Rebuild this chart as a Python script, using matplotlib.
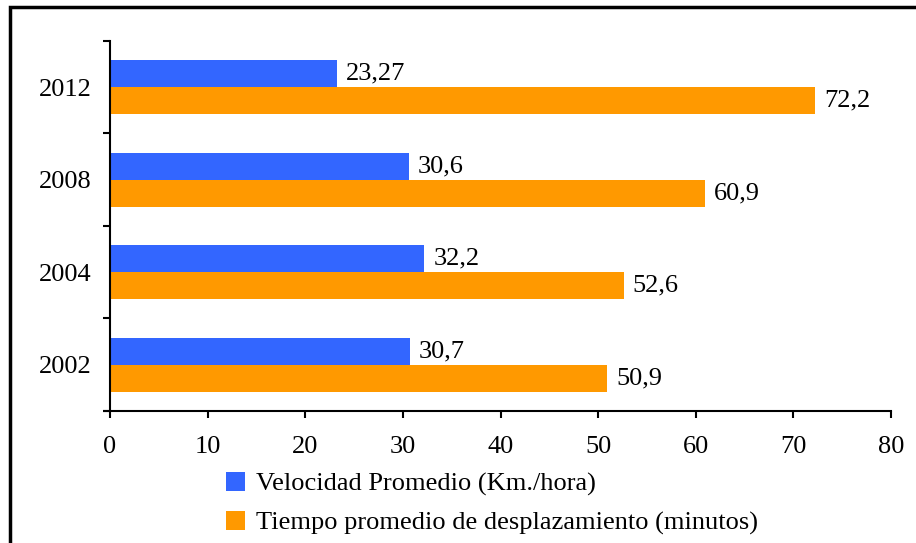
import matplotlib.pyplot as plt
import numpy as np
from matplotlib.patches import Rectangle

years = ["2002", "2004", "2008", "2012"]
velocidad = [30.7, 32.2, 30.6, 23.27]
tiempo = [50.9, 52.6, 60.9, 72.2]
velocidad_labels = ["30,7", "32,2", "30,6", "23,27"]
tiempo_labels = ["50,9", "52,6", "60,9", "72,2"]
series_names = ["Velocidad Promedio (Km./hora)",
                "Tiempo promedio de desplazamiento (minutos)"]

plt.rcParams["font.family"] = ["Liberation Serif", "DejaVu Serif"]
FS = 19

fig = plt.figure(figsize=(9.16, 5.43), dpi=100)
ax = fig.add_axes([0.1201, 0.2431, 0.8526, 0.6814])

y = np.arange(len(years))
h = 0.29
b1 = ax.barh(y + h / 2, velocidad, height=h, color="#3366FF", label=series_names[0])
b2 = ax.barh(y - h / 2, tiempo, height=h, color="#FF9900", label=series_names[1])

for bars, labs in ((b1, velocidad_labels), (b2, tiempo_labels)):
    for bar, lab in zip(bars, labs):
        ax.annotate(lab, (bar.get_width(), bar.get_y() + bar.get_height() / 2),
                    xytext=(6.5, 0), textcoords="offset points",
                    ha="left", va="center", fontsize=FS)

ax.set_xlim(0, 80)
ax.set_ylim(-0.5, 3.5)
ax.set_xticks(range(0, 81, 10))
ax.set_yticks(y)
ax.set_yticklabels(years)
ax.set_yticks(np.arange(-0.5, 3.6, 1), minor=True)
ax.tick_params(axis="y", which="major", length=0, pad=13, labelsize=FS)
ax.tick_params(axis="y", which="minor", length=5, width=1.5, direction="out")
ax.tick_params(axis="x", length=5, width=1.5, direction="out", pad=13, labelsize=FS)

for s in ("top", "right"):
    ax.spines[s].set_visible(False)
for s in ("left", "bottom"):
    ax.spines[s].set_linewidth(1.5)

# x axis line reaches the outer end of the lowest y tick
ax.plot([-0.7, 0], [-0.5, -0.5], color="black", lw=1.5, clip_on=False,
        transform=ax.transData, solid_capstyle="butt")

handles = [b1, b2]
fig.legend(handles, series_names, loc="upper left", bbox_to_anchor=(0.247, 0.1306),
           frameon=False, fontsize=FS, handlelength=0.7, handleheight=0.7,
           handletextpad=0.42, labelspacing=0.58, borderpad=0, borderaxespad=0)

fig.patches.append(Rectangle((10 / 916, -0.05), 1.2, 1 - 7 / 543 + 0.05,
                             transform=fig.transFigure, fill=False,
                             edgecolor="black", lw=2.5))

fig.savefig("out.png", dpi=100)
